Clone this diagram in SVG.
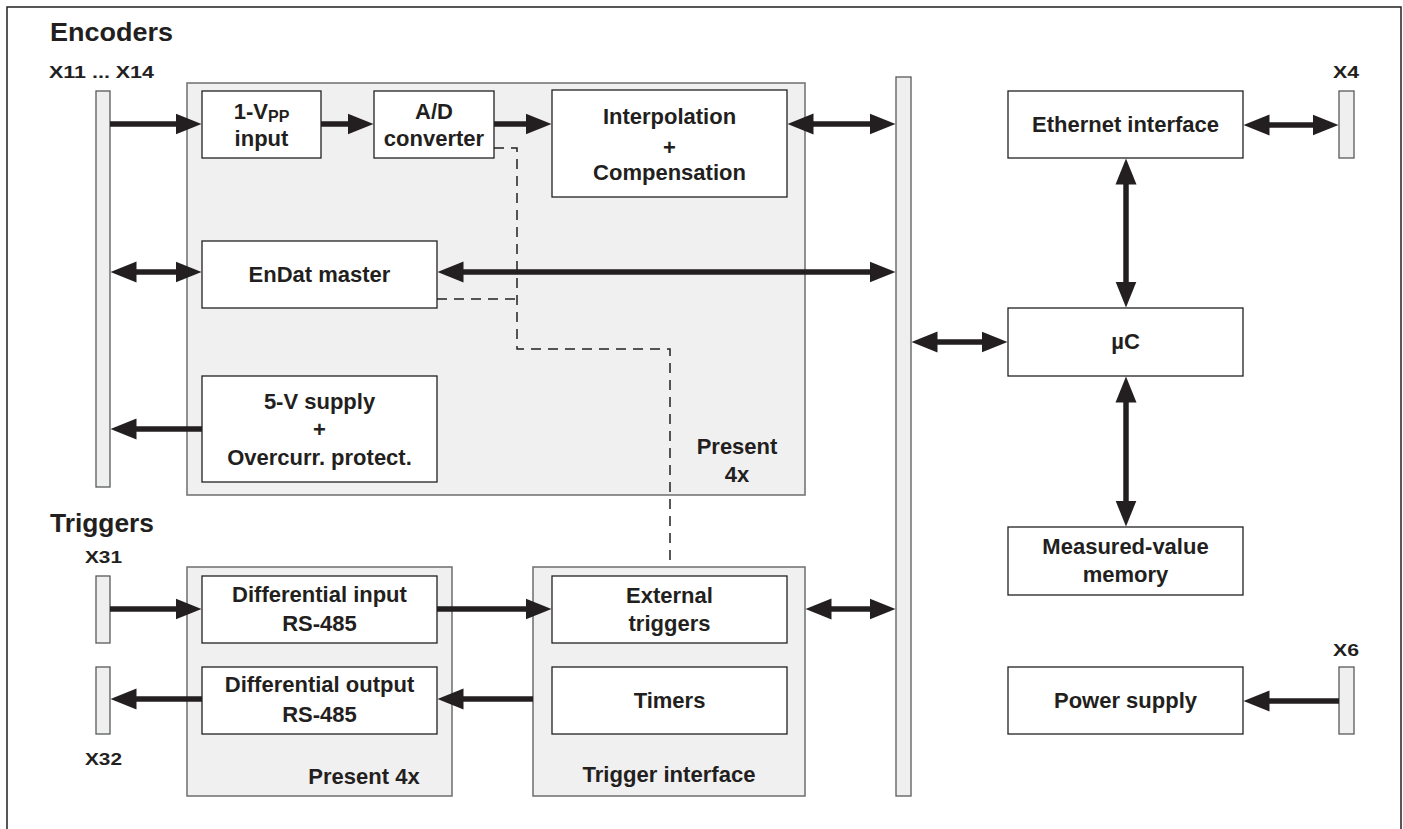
<svg xmlns="http://www.w3.org/2000/svg" width="1403" height="829" viewBox="0 0 1403 829">
<style>
.frame{fill:none;stroke:#231f20;stroke-width:1.5}
.cont{fill:#f0f0f0;stroke:#6d6e71;stroke-width:1.5}
.box{fill:#ffffff;stroke:#231f20;stroke-width:1.3}
.bar{fill:#efefef;stroke:#58595b;stroke-width:1.3}
.t{font-family:"Liberation Sans",Arial,sans-serif;font-weight:bold;font-size:22px;fill:#231f20;text-anchor:middle}
.title{font-family:"Liberation Sans",Arial,sans-serif;font-weight:bold;font-size:26px;fill:#231f20}
.x{font-family:"Liberation Sans",Arial,sans-serif;font-weight:bold;font-size:17px;fill:#231f20}
.arr{fill:none;stroke:#231f20;stroke-width:5.5}
.dash{fill:none;stroke:#231f20;stroke-width:1.5;stroke-dasharray:10 7}
</style>
<defs>
<marker id="ah" markerUnits="userSpaceOnUse" viewBox="0 -12 28 24" refX="0.5" refY="0" markerWidth="28" markerHeight="24" orient="auto-start-reverse">
<path d="M0,-10.5 L26,0 L0,10.5 Z" fill="#231f20"/>
</marker>
</defs>

<path class="frame" d="M7,835 V7 H1401 V835"/>

<g id="titles">
<text class="title" x="50" y="41" textLength="123" lengthAdjust="spacingAndGlyphs">Encoders</text>
<text class="title" x="50" y="532" textLength="104" lengthAdjust="spacingAndGlyphs">Triggers</text>
</g>

<g id="connector-labels">
<text class="x" x="49" y="78" textLength="105" lengthAdjust="spacingAndGlyphs">X11 ... X14</text>
<text class="x" x="85" y="563" textLength="37" lengthAdjust="spacingAndGlyphs">X31</text>
<text class="x" x="85" y="765" textLength="37" lengthAdjust="spacingAndGlyphs">X32</text>
<text class="x" x="1333" y="78" textLength="26" lengthAdjust="spacingAndGlyphs">X4</text>
<text class="x" x="1333" y="656" textLength="26" lengthAdjust="spacingAndGlyphs">X6</text>
</g>

<g id="bar-encoders"><rect class="bar" x="96" y="91" width="14" height="396"/></g>
<g id="bar-x31"><rect class="bar" x="96" y="576" width="14" height="67"/></g>
<g id="bar-x32"><rect class="bar" x="96" y="667" width="14" height="67"/></g>
<g id="bar-x4"><rect class="bar" x="1339" y="91" width="15" height="67"/></g>
<g id="bar-x6"><rect class="bar" x="1339" y="667" width="15" height="67"/></g>
<g id="bus"><rect class="bar" x="896" y="77" width="15" height="719"/></g>

<g id="encoder-unit">
<rect class="cont" x="187" y="83" width="618" height="412"/>
<text class="t" x="737" y="454">Present</text>
<text class="t" x="737" y="482">4x</text>
</g>

<g id="vpp-input">
<rect class="box" x="202" y="91" width="119" height="67"/>
<text class="t" x="261.5" y="119">1-V<tspan font-size="16" dy="3">PP</tspan></text>
<text class="t" x="261.5" y="146">input</text>
</g>

<g id="ad-converter">
<rect class="box" x="374" y="91" width="120" height="67"/>
<text class="t" x="434" y="119">A/D</text>
<text class="t" x="434" y="146">converter</text>
</g>

<g id="interpolation">
<rect class="box" x="552" y="90" width="235" height="107"/>
<text class="t" x="669.5" y="124">Interpolation</text>
<text class="t" x="669.5" y="155">+</text>
<text class="t" x="669.5" y="180">Compensation</text>
</g>

<g id="endat-master">
<rect class="box" x="202" y="241" width="235" height="67"/>
<text class="t" x="319.5" y="282">EnDat master</text>
</g>

<g id="supply-5v">
<rect class="box" x="202" y="376" width="235" height="106"/>
<text class="t" x="319.5" y="409">5-V supply</text>
<text class="t" x="319.5" y="437">+</text>
<text class="t" x="319.5" y="465">Overcurr. protect.</text>
</g>

<g id="trigger-io">
<rect class="cont" x="187" y="567" width="265" height="229"/>
<text class="t" x="364" y="784">Present 4x</text>
</g>

<g id="diff-input">
<rect class="box" x="202" y="576" width="235" height="67"/>
<text class="t" x="319.5" y="602">Differential input</text>
<text class="t" x="319.5" y="631">RS-485</text>
</g>

<g id="diff-output">
<rect class="box" x="202" y="667" width="235" height="67"/>
<text class="t" x="319.5" y="692">Differential output</text>
<text class="t" x="319.5" y="722">RS-485</text>
</g>

<g id="trigger-interface">
<rect class="cont" x="533" y="567" width="272" height="229"/>
<text class="t" x="669" y="782" textLength="173" lengthAdjust="spacingAndGlyphs">Trigger interface</text>
</g>

<g id="external-triggers">
<rect class="box" x="552" y="576" width="235" height="67"/>
<text class="t" x="669.5" y="603">External</text>
<text class="t" x="669.5" y="631">triggers</text>
</g>

<g id="timers">
<rect class="box" x="552" y="667" width="235" height="67"/>
<text class="t" x="669.5" y="708">Timers</text>
</g>

<g id="ethernet">
<rect class="box" x="1008" y="91" width="235" height="67"/>
<text class="t" x="1125.5" y="132">Ethernet interface</text>
</g>

<g id="uc">
<rect class="box" x="1008" y="308" width="235" height="68"/>
<text class="t" x="1125.5" y="349">µC</text>
</g>

<g id="memory">
<rect class="box" x="1008" y="527" width="235" height="68"/>
<text class="t" x="1125.5" y="554">Measured-value</text>
<text class="t" x="1125.5" y="582">memory</text>
</g>

<g id="power-supply">
<rect class="box" x="1008" y="667" width="235" height="67"/>
<text class="t" x="1125.5" y="708">Power supply</text>
</g>

<g id="connectors">
<path class="dash" d="M494,148 H517 V349 H670 V561"/>
<path class="dash" d="M437,299 H517"/>
<path class="arr" marker-end="url(#ah)" d="M110,124 H176"/>
<path class="arr" marker-end="url(#ah)" d="M321,124 H348"/>
<path class="arr" marker-end="url(#ah)" d="M494,124 H526"/>
<path class="arr" marker-start="url(#ah)" marker-end="url(#ah)" d="M813,124 H870"/>
<path class="arr" marker-start="url(#ah)" marker-end="url(#ah)" d="M136,272 H176"/>
<path class="arr" marker-start="url(#ah)" marker-end="url(#ah)" d="M463,272 H870"/>
<path class="arr" marker-end="url(#ah)" d="M202,429 H136"/>
<path class="arr" marker-start="url(#ah)" marker-end="url(#ah)" d="M937,342 H982"/>
<path class="arr" marker-start="url(#ah)" marker-end="url(#ah)" d="M1269,125 H1313"/>
<path class="arr" marker-start="url(#ah)" marker-end="url(#ah)" d="M1126,184 V282"/>
<path class="arr" marker-start="url(#ah)" marker-end="url(#ah)" d="M1126,402 V501"/>
<path class="arr" marker-end="url(#ah)" d="M1339,701 H1269"/>
<path class="arr" marker-end="url(#ah)" d="M110,609 H176"/>
<path class="arr" marker-end="url(#ah)" d="M202,699 H136"/>
<path class="arr" marker-end="url(#ah)" d="M437,609 H526"/>
<path class="arr" marker-end="url(#ah)" d="M533,699 H463"/>
<path class="arr" marker-start="url(#ah)" marker-end="url(#ah)" d="M831,609 H870"/>
</g>
</svg>
